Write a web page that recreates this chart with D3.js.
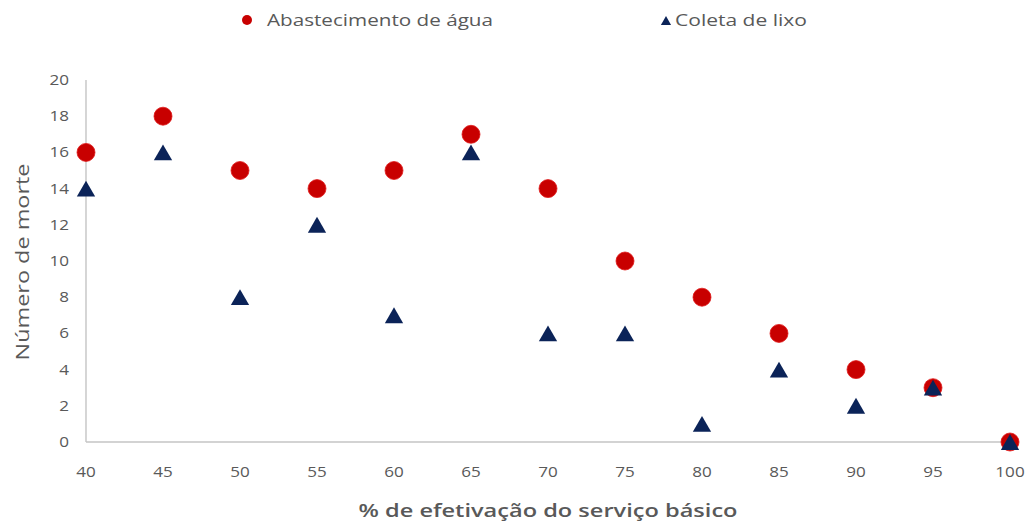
<!DOCTYPE html>
<html><head><meta charset="utf-8">
<script src="https://cdn.jsdelivr.net/npm/d3@7"></script>
<style>body{margin:0;background:#fff}svg{display:block}</style>
</head><body>
<svg id="c" width="1030" height="522"></svg>
<script>
const xValues = [40,45,50,55,60,65,70,75,80,85,90,95,100];
const agua = [16,18,15,14,15,17,14,10,8,6,4,3,0];
const lixo = [14,16,8,12,7,16,6,6,1,4,2,3,0];
const yTicks = [0,2,4,6,8,10,12,14,16,18,20];
const seriesNames = ["Abastecimento de água","Coleta de lixo"];

const svg = d3.select("#c");
const font = "'Open Sans', 'Liberation Sans', sans-serif";
const textColor = "#595959";
const x = d3.scaleLinear().domain([40,100]).range([86,1010]);
const y = d3.scaleLinear().domain([0,20]).range([442,80]);

// axis lines
svg.append("line").attr("x1",x(40)).attr("x2",x(40)).attr("y1",y(20)).attr("y2",y(0)).attr("stroke","#c4c4c4").attr("stroke-width",1.4);
svg.append("line").attr("x1",x(40)).attr("x2",x(100)).attr("y1",y(0)).attr("y2",y(0)).attr("stroke","#c4c4c4").attr("stroke-width",1.4);

// tick labels
svg.selectAll("text.yt").data(yTicks).enter().append("text")
  .attr("transform",d=>`translate(69,${y(d)+5}) scale(1.22,1)`).attr("text-anchor","end")
  .attr("font-family",font).attr("font-size",14).attr("fill",textColor).text(d=>d);
svg.selectAll("text.xt").data(xValues).enter().append("text")
  .attr("transform",d=>`translate(${x(d)},477) scale(1.22,1)`).attr("text-anchor","middle")
  .attr("font-family",font).attr("font-size",14).attr("fill",textColor).text(d=>d);

// axis titles
svg.append("text").attr("transform","translate(29,262) rotate(-90)").attr("text-anchor","middle")
  .attr("font-family",font).attr("font-size",18).attr("fill",textColor)
  .attr("textLength",197).attr("lengthAdjust","spacingAndGlyphs").text("Número de morte");
svg.append("text").attr("x",548).attr("y",517).attr("text-anchor","middle")
  .attr("font-family",font).attr("font-size",18).attr("font-weight",600).attr("fill",textColor)
  .attr("textLength",379).attr("lengthAdjust","spacingAndGlyphs").text("% de efetivação do serviço básico");

// marks
const tri = d3.symbol().type(d3.symbolTriangle).size(145);
svg.selectAll("circle.a").data(xValues).enter().append("circle")
  .attr("cx",d=>x(d)).attr("cy",(d,i)=>y(agua[i])).attr("r",9)
  .attr("fill","#c80000").attr("stroke","#e01a1a").attr("stroke-width",0.8);
svg.selectAll("path.b").data(xValues).enter().append("path")
  .attr("d",tri).attr("transform",(d,i)=>`translate(${x(d)},${y(lixo[i])+2.6})`)
  .attr("fill","#0b2358");

// legend
svg.append("circle").attr("cx",247).attr("cy",20).attr("r",5).attr("fill","#c80000");
svg.append("text").attr("x",267).attr("y",26).attr("font-family",font).attr("font-size",17).attr("fill",textColor)
  .attr("textLength",226).attr("lengthAdjust","spacingAndGlyphs").text(seriesNames[0]);
svg.append("path").attr("d",d3.symbol().type(d3.symbolTriangle).size(45)).attr("transform","translate(666,22)").attr("fill","#0b2358");
svg.append("text").attr("x",675).attr("y",26).attr("font-family",font).attr("font-size",17).attr("fill",textColor)
  .attr("textLength",132).attr("lengthAdjust","spacingAndGlyphs").text(seriesNames[1]);
</script>
</body></html>
